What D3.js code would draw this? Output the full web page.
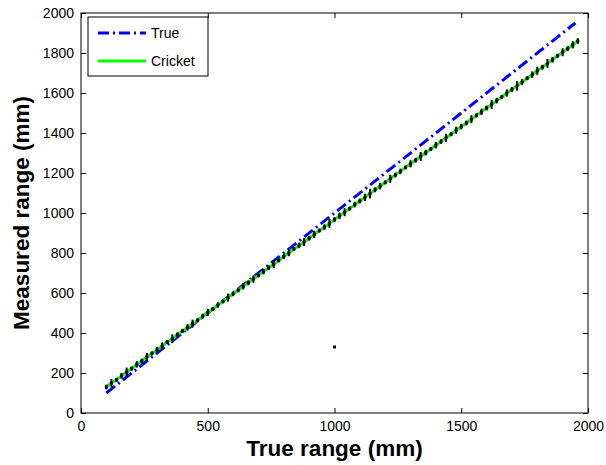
<!DOCTYPE html>
<html>
<head>
<meta charset="utf-8">
<script src="https://cdn.jsdelivr.net/npm/d3@7"></script>
<style>
  body { margin: 0; background: #fff; }
  svg { font-family: "Liberation Sans", Arial, sans-serif; }
</style>
</head>
<body>
<svg id="chart" width="606" height="465"></svg>
<script>
// ground truth line
const trueX = [100, 1950];
const trueY = [100, 1950];

// cricket measurements, one every 20 mm
const cricketX = [100, 120, 140, 160, 180, 200, 220, 240, 260, 280, 300, 320, 340, 360, 380, 400,
  420, 440, 460, 480, 500, 520, 540, 560, 580, 600, 620, 640, 660, 680, 700, 720, 740, 760, 780, 800,
  820, 840, 860, 880, 900, 920, 940, 960, 980, 1000, 1020, 1040, 1060, 1080, 1100, 1120, 1140, 1160,
  1180, 1200, 1220, 1240, 1260, 1280, 1300, 1320, 1340, 1360, 1380, 1400, 1420, 1440, 1460, 1480,
  1500, 1520, 1540, 1560, 1580, 1600, 1620, 1640, 1660, 1680, 1700, 1720, 1740, 1760, 1780, 1800,
  1820, 1840, 1860, 1880, 1900, 1920, 1940, 1960];
const cricketY = [130, 150, 166, 186, 205, 222, 243, 260, 280, 298, 316, 335, 355, 371, 391, 410,
  428, 447, 464, 484, 503, 520, 540, 558, 577, 596, 614, 633, 651, 670, 688, 707, 726, 744, 763, 782,
  800, 820, 838, 855, 874, 893, 912, 929, 948, 967, 986, 1004, 1022, 1042, 1060, 1078, 1097, 1116,
  1134, 1153, 1171, 1190, 1208, 1228, 1246, 1264, 1283, 1302, 1320, 1339, 1357, 1376, 1394, 1414,
  1432, 1450, 1469, 1488, 1506, 1525, 1543, 1562, 1580, 1600, 1618, 1636, 1655, 1674, 1692, 1711,
  1729, 1748, 1766, 1786, 1804, 1822, 1841, 1860];
const cricketErr = [12, 20, 10, 14, 22, 10, 16, 12, 20, 10, 14, 18, 10, 22, 12, 10,
  16, 20, 10, 12, 18, 10, 14, 10, 20, 12, 10, 16, 12, 18, 10, 14, 12, 20, 10, 12,
  16, 10, 14, 20, 12, 18, 10, 14, 22, 12, 16, 20, 10, 14, 12, 18, 24, 12, 16, 10,
  20, 12, 14, 10, 18, 12, 22, 14, 10, 16, 12, 20, 10, 18, 14, 12, 20, 10, 16, 12,
  22, 14, 10, 18, 12, 24, 14, 10, 16, 20, 12, 22, 14, 10, 20, 12, 18, 14];

// a lone stray reading
const strayX = [1000];
const strayY = [330];

const xTicks = [0, 500, 1000, 1500, 2000];
const yTicks = [0, 200, 400, 600, 800, 1000, 1200, 1400, 1600, 1800, 2000];
const legendLabels = ['True', 'Cricket'];

const svg = d3.select('#chart');
const margin = { top: 13, right: 18, bottom: 52, left: 81 };
const width = 606 - margin.left - margin.right;
const height = 465 - margin.top - margin.bottom;

const x = d3.scaleLinear().domain([0, 2000]).range([0, width]);
const y = d3.scaleLinear().domain([0, 2000]).range([height, 0]);

const g = svg.append('g').attr('transform', `translate(${margin.left},${margin.top})`);

// ticks pointing inward, on all four sides like matlab
const tickLen = 5;
const fmt = d3.format('d');
g.append('g').attr('transform', `translate(0,${height})`)
  .call(d3.axisBottom(x).tickValues(xTicks).tickFormat(fmt).tickSizeInner(-tickLen).tickSizeOuter(0).tickPadding(8))
  .call(a => a.select('.domain').remove());
g.append('g')
  .call(d3.axisLeft(y).tickValues(yTicks).tickFormat(fmt).tickSizeInner(-tickLen).tickSizeOuter(0).tickPadding(7))
  .call(a => a.select('.domain').remove());
g.append('g')
  .call(d3.axisTop(x).tickValues(xTicks).tickSizeInner(-tickLen).tickSizeOuter(0).tickFormat(''))
  .call(a => a.select('.domain').remove());
g.append('g').attr('transform', `translate(${width},0)`)
  .call(d3.axisRight(y).tickValues(yTicks).tickSizeInner(-tickLen).tickSizeOuter(0).tickFormat(''))
  .call(a => a.select('.domain').remove());

g.selectAll('.tick text').attr('font-size', 14).attr('fill', '#000')
  .attr('font-family', '"Liberation Sans", Arial, sans-serif');
g.selectAll('.tick line').attr('stroke', '#000');

const line = d3.line().x(d => x(d[0])).y(d => y(d[1]));

// true range
g.append('path')
  .datum(trueX.map((v, i) => [v, trueY[i]]))
  .attr('fill', 'none')
  .attr('stroke', '#0000ff')
  .attr('stroke-width', 3)
  .attr('stroke-dasharray', '11,4,2,4')
  .attr('d', line);

// cricket measurements
const cricket = cricketX.map((v, i) => [v, cricketY[i], cricketErr[i]]);
g.append('path')
  .datum(cricket)
  .attr('fill', 'none')
  .attr('stroke', '#00ff00')
  .attr('stroke-width', 3)
  .attr('d', line);

g.append('g').selectAll('line')
  .data(cricket)
  .join('line')
  .attr('x1', d => x(d[0])).attr('x2', d => x(d[0]))
  .attr('y1', d => y(d[1] - d[2])).attr('y2', d => y(d[1] + d[2]))
  .attr('stroke', '#000')
  .attr('stroke-width', 2);

g.append('g').selectAll('rect')
  .data(cricket.concat(strayX.map((v, i) => [v, strayY[i]])))
  .join('rect')
  .attr('x', d => x(d[0]) - 1.5)
  .attr('y', d => y(d[1]) - 1.5)
  .attr('width', 3)
  .attr('height', 3)
  .attr('fill', '#000');

// box
g.append('rect')
  .attr('width', width).attr('height', height)
  .attr('fill', 'none').attr('stroke', '#000').attr('stroke-width', 1);

// legend
const leg = g.append('g').attr('transform', 'translate(7,4)');
leg.append('rect')
  .attr('width', 120).attr('height', 59)
  .attr('fill', '#fff').attr('stroke', '#000').attr('stroke-width', 1);
const legStyles = [
  { stroke: '#0000ff', dash: '11,4,2,4' },
  { stroke: '#00ff00', dash: null }
];
legendLabels.forEach((lbl, i) => {
  const ly = 16 + i * 28;
  leg.append('line')
    .attr('x1', 10).attr('x2', 58).attr('y1', ly).attr('y2', ly)
    .attr('stroke', legStyles[i].stroke)
    .attr('stroke-width', 3)
    .attr('stroke-dasharray', legStyles[i].dash);
  leg.append('text')
    .attr('x', 63).attr('y', ly + 5)
    .attr('font-size', 14)
    .text(lbl);
});

// axis titles
svg.append('text')
  .attr('x', margin.left + width / 2)
  .attr('y', 456)
  .attr('text-anchor', 'middle')
  .attr('font-size', 22.5)
  .attr('font-weight', 'bold')
  .text('True range (mm)');

svg.append('text')
  .attr('transform', `translate(29,${margin.top + height / 2}) rotate(-90)`)
  .attr('text-anchor', 'middle')
  .attr('font-size', 22.5)
  .attr('font-weight', 'bold')
  .text('Measured range (mm)');
</script>
</body>
</html>
